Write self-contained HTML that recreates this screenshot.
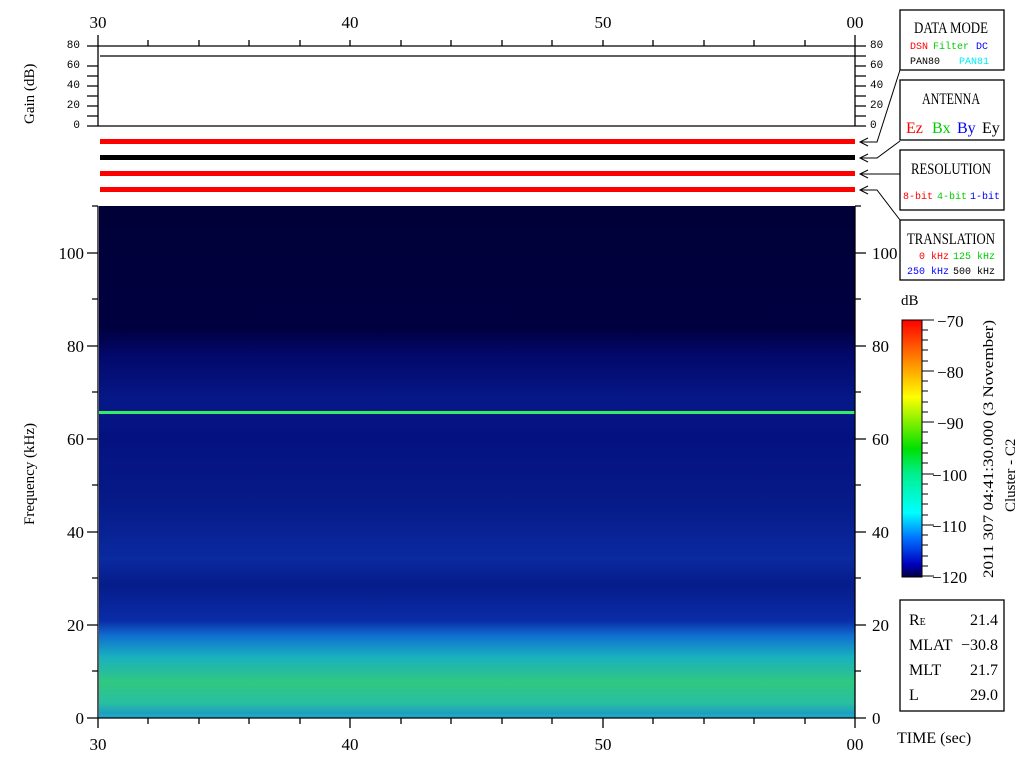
<!DOCTYPE html>
<html><head><meta charset="utf-8"><style>
html,body{margin:0;padding:0;background:#fff;}
svg{display:block;}
text{font-family:"Liberation Mono",monospace;}
.s{font-family:"Liberation Serif",serif;}
</style></head><body>
<svg width="1024" height="768" viewBox="0 0 1024 768" xmlns="http://www.w3.org/2000/svg">
<defs>
<linearGradient id="sp" x1="0" y1="206" x2="0" y2="718" gradientUnits="userSpaceOnUse">
<stop offset="0" stop-color="#000038"/>
<stop offset="0.24" stop-color="#000040"/>
<stop offset="0.29" stop-color="#02086a"/>
<stop offset="0.38" stop-color="#061888"/>
<stop offset="0.45" stop-color="#041280"/>
<stop offset="0.58" stop-color="#061a88"/>
<stop offset="0.69" stop-color="#0a2aa0"/>
<stop offset="0.74" stop-color="#061c8a"/>
<stop offset="0.81" stop-color="#0a2ca8"/>
<stop offset="0.84" stop-color="#1070d0"/>
<stop offset="0.88" stop-color="#18b0c0"/>
<stop offset="0.93" stop-color="#30c880"/>
<stop offset="0.97" stop-color="#28c0a0"/>
<stop offset="1" stop-color="#1890d0"/>
</linearGradient>
<linearGradient id="cb" x1="0" y1="320" x2="0" y2="577" gradientUnits="userSpaceOnUse">
<stop offset="0" stop-color="#ff0000"/>
<stop offset="0.15" stop-color="#ff8000"/>
<stop offset="0.3" stop-color="#ffff00"/>
<stop offset="0.5" stop-color="#00e000"/>
<stop offset="0.6" stop-color="#00f090"/>
<stop offset="0.75" stop-color="#00ffff"/>
<stop offset="0.85" stop-color="#0070ff"/>
<stop offset="0.95" stop-color="#0000c0"/>
<stop offset="1" stop-color="#000040"/>
</linearGradient>
</defs>
<g font-size="17" text-anchor="middle">
<text x="98" y="28" class="s">30</text><text x="350" y="28" class="s">40</text><text x="603" y="28" class="s">50</text><text x="855" y="28" class="s">00</text>
<text x="98" y="750" class="s">30</text><text x="350" y="750" class="s">40</text><text x="603" y="750" class="s">50</text><text x="855" y="750" class="s">00</text>
</g>
<g stroke="#000" stroke-width="1.3" fill="none">
<line x1="98" y1="35" x2="98" y2="126"/>
<line x1="87" y1="46" x2="866" y2="46"/>
<line x1="87" y1="126" x2="866" y2="126"/>
<line x1="100" y1="56" x2="855" y2="56"/>
<line x1="855" y1="35" x2="855" y2="126"/>
<path d="M87 66h11M87 76h11M87 86h11M87 96h11M87 106h11M87 116h11M855 56h11M855 66h11M855 76h11M855 86h11M855 96h11M855 106h11M855 116h11"/>
<path d="M148 40v6M199 40v6M249 40v6M300 40v6M350 40v6M401 40v6M451 40v6M502 40v6M552 40v6M603 40v6M653 40v6M704 40v6M754 40v6M805 40v6"/>
</g>
<g font-size="11" text-anchor="end">
<text x="80" y="48">80</text><text x="80" y="68">60</text><text x="80" y="88">40</text><text x="80" y="108">20</text><text x="80" y="128">0</text>
</g>
<g font-size="11">
<text x="870" y="48">80</text><text x="870" y="68">60</text><text x="870" y="88">40</text><text x="870" y="108">20</text><text x="870" y="128">0</text>
</g>
<text transform="translate(34,124) rotate(-90)" font-size="15" class="s">Gain (dB)</text>
<rect x="100" y="139" width="755" height="5" fill="#f00"/>
<rect x="100" y="155" width="755" height="5" fill="#000"/>
<rect x="100" y="171" width="755" height="5" fill="#f00"/>
<rect x="100" y="187" width="755" height="5" fill="#f00"/>
<g stroke="#000" stroke-width="1" fill="none">
<path d="M900 70 L877 142 L860 142 M868 138 L860 142 L868 146"/>
<path d="M900 141 L877 158 L860 158 M868 154 L860 158 L868 162"/>
<path d="M900 174 L860 174 M868 170 L860 174 L868 178"/>
<path d="M900 220 L877 190 L860 190 M868 186 L860 190 L868 194"/>
</g>
<rect x="99" y="206" width="756" height="512" fill="url(#sp)"/>
<rect x="99" y="411" width="756" height="3" fill="#30f060"/>
<rect x="99" y="714" width="756" height="4" fill="#20b0c0" opacity="0.6"/>
<g stroke="#000" stroke-width="1.3" fill="none">
<line x1="98" y1="206" x2="98" y2="718"/>
<line x1="855" y1="206" x2="855" y2="718"/>
<line x1="98" y1="718" x2="855" y2="718"/>
<path d="M87 718h11M87 625h11M87 532h11M87 439h11M87 346h11M87 253h11M92 671h6M92 578h6M92 485h6M92 392h6M92 299h6M92 206h6"/>
<path d="M855 718h11M855 625h11M855 532h11M855 439h11M855 346h11M855 253h11M855 671h6M855 578h6M855 485h6M855 392h6M855 299h6M855 206h6"/>
<path d="M98 718v10M350 718v10M603 718v10M855 718v10M148 718v6M199 718v6M249 718v6M300 718v6M401 718v6M451 718v6M502 718v6M552 718v6M653 718v6M704 718v6M754 718v6M805 718v6"/>
</g>
<g font-size="17" text-anchor="end">
<text x="84" y="724" class="s">0</text><text x="84" y="631" class="s">20</text><text x="84" y="538" class="s">40</text><text x="84" y="445" class="s">60</text><text x="84" y="352" class="s">80</text><text x="84" y="259" class="s">100</text>
</g>
<g font-size="17">
<text x="872" y="724" class="s">0</text><text x="872" y="631" class="s">20</text><text x="872" y="538" class="s">40</text><text x="872" y="445" class="s">60</text><text x="872" y="352" class="s">80</text><text x="872" y="259" class="s">100</text>
</g>
<text transform="translate(34,525) rotate(-90)" font-size="15" class="s">Frequency (kHz)</text>
<g stroke="#000" stroke-width="1.3" fill="#fff">
<rect x="900" y="10" width="104" height="60"/>
<rect x="900" y="80" width="104" height="60"/>
<rect x="900" y="150" width="104" height="60"/>
<rect x="900" y="220" width="104" height="60"/>
<rect x="900" y="600" width="104" height="111"/>
</g>
<g font-size="16">
<text x="914" y="33" class="s" textLength="74" lengthAdjust="spacingAndGlyphs">DATA MODE</text>
<text x="922" y="104" class="s" textLength="58" lengthAdjust="spacingAndGlyphs">ANTENNA</text>
<text x="911" y="174" class="s" textLength="80" lengthAdjust="spacingAndGlyphs">RESOLUTION</text>
<text x="907" y="244" class="s" textLength="88" lengthAdjust="spacingAndGlyphs">TRANSLATION</text>
</g>
<g font-size="10">
<text x="910" y="49" fill="#f00">DSN</text><text x="933" y="49" fill="#0c0">Filter</text><text x="976" y="49" fill="#00f">DC</text>
<text x="910" y="64" fill="#000">PAN80</text><text x="959" y="64" fill="#0ee">PAN81</text>
<text x="903" y="199" fill="#f00">8-bit</text><text x="937" y="199" fill="#0c0">4-bit</text><text x="970" y="199" fill="#00f">1-bit</text>
<text x="919" y="259" fill="#f00">0 kHz</text><text x="953" y="259" fill="#0c0">125 kHz</text>
<text x="907" y="274" fill="#00f">250 kHz</text><text x="953" y="274" fill="#000">500 kHz</text>
</g>
<g font-size="16">
<text x="906" y="133" fill="#f00" class="s">Ez</text><text x="932" y="133" fill="#0c0" class="s">Bx</text><text x="957" y="133" fill="#00f" class="s">By</text><text x="982" y="133" fill="#000" class="s">Ey</text>
</g>
<text x="901" y="305" font-size="15" class="s">dB</text>
<rect x="902" y="320" width="20" height="257" fill="url(#cb)" stroke="#000" stroke-width="1"/>
<g stroke="#000" stroke-width="1">
<path d="M922 320h12M922 371h12M922 422h12M922 474h12M922 525h12M922 576h12M922 330h6M922 340h6M922 350h6M922 361h6M922 381h6M922 391h6M922 402h6M922 412h6M922 432h6M922 443h6M922 453h6M922 463h6M922 484h6M922 494h6M922 504h6M922 515h6M922 535h6M922 545h6M922 556h6M922 566h6"/>
</g>
<g font-size="17">
<text x="937" y="327" class="s">−70</text><text x="937" y="378" class="s">−80</text><text x="937" y="429" class="s">−90</text><text x="932" y="481" class="s">−100</text><text x="932" y="532" class="s">−110</text><text x="932" y="583" class="s">−120</text>
</g>
<text transform="translate(993,578) rotate(-90)" font-size="15" class="s" textLength="258" lengthAdjust="spacingAndGlyphs">2011 307 04:41:30.000 (3 November)</text>
<text transform="translate(1015,512) rotate(-90)" font-size="15" class="s">Cluster - C2</text>
<g font-size="16">
<text x="909" y="625" class="s">R<tspan font-size="10">E</tspan></text><text x="998" y="625" text-anchor="end" class="s">21.4</text>
<text x="909" y="650" class="s">MLAT</text><text x="998" y="650" text-anchor="end" class="s">−30.8</text>
<text x="909" y="675" class="s">MLT</text><text x="998" y="675" text-anchor="end" class="s">21.7</text>
<text x="909" y="700" class="s">L</text><text x="998" y="700" text-anchor="end" class="s">29.0</text>
</g>
<text x="897" y="743" font-size="16" class="s">TIME (sec)</text>
</svg>
</body></html>
